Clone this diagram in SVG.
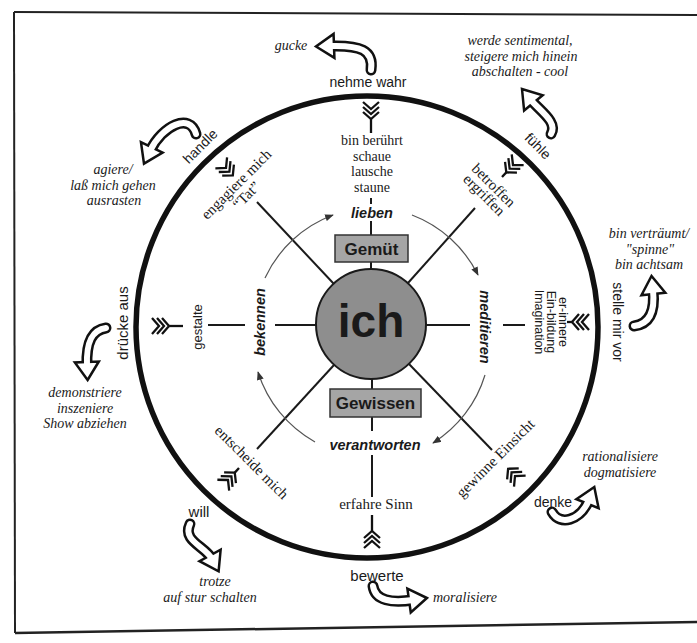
<svg xmlns="http://www.w3.org/2000/svg" width="697" height="643" viewBox="0 0 697 643">
<style>
text{text-anchor:middle;fill:#1a1a1a}
.sans{font-family:"Liberation Sans",Arial,sans-serif;font-size:14px}
.bi{font-family:"Liberation Sans",Arial,sans-serif;font-weight:bold;font-style:italic;font-size:14.5px}
.box{font-family:"Liberation Sans",Arial,sans-serif;font-weight:bold;font-size:17px}
.ser{font-family:"Liberation Serif","Times New Roman",serif;font-size:15px}
.ser14{font-family:"Liberation Serif","Times New Roman",serif;font-size:14px}
.it{font-family:"Liberation Serif","Times New Roman",serif;font-style:italic;font-size:14px}
.rad{stroke:#1a1a1a;stroke-width:2;fill:none}
.cyc{stroke:#555;stroke-width:1.2;fill:none;marker-end:url(#ah)}
.fl{stroke:#111;stroke-width:2.3;fill:none}
.hb{stroke:#111;stroke-width:11;stroke-linecap:round;fill:none}
.hw{stroke:#fff;stroke-width:6;stroke-linecap:round;fill:none}
.hd{fill:#fff;stroke:#111;stroke-width:2.5;stroke-linejoin:miter}
.gbox{fill:#a5a5a5;stroke:#333;stroke-width:1.5}
</style>
<defs>
<marker id="ah" viewBox="0 0 10 8" refX="9" refY="4" markerWidth="9" markerHeight="7" markerUnits="userSpaceOnUse" orient="auto"><path d="M0,0 L10,4 L0,8 z" fill="#333"/></marker>
<path id="fl" d="M-7,-8 L0,0 L-7,8 M-2,-8 L5,0 L-2,8 M3,-8 L10,0 L3,8"/>
<polygon id="hh" points="0,0 -18,-12 -18,12"/>
</defs>

<g id="frame" stroke="#222" fill="none">
<path d="M14,12 L697,15" stroke-width="2"/>
<path d="M14,12 L15,633" stroke-width="2"/>
<path d="M15,633 L697,622" stroke-width="2.5"/>
</g>

<g id="ring"><circle cx="367" cy="327" r="231" stroke="#111" stroke-width="5.5" fill="none"/></g>

<g id="connectors">
<path class="rad" d="M371,198 V204 M371,221 V235 M371,262 V269"/>
<path class="rad" d="M372,379 V389 M372,417 V431 M372,455 V497"/>
<path class="rad" d="M316,325 H275 M245,325 H208"/>
<path class="rad" d="M426,325 H470 M503,325 H525"/>
<path class="rad" d="M333.5,283.5 L257,202"/>
<path class="rad" d="M408,283 L475,208"/>
<path class="rad" d="M409,364 L492,450"/>
<path class="rad" d="M334,365 L257,449"/>
<path class="cyc" d="M265,278 A122,122 0 0 1 333,215"/>
<path class="cyc" d="M412,215 A122,122 0 0 1 478,275"/>
<path class="cyc" d="M485,375 A122,122 0 0 1 433,443"/>
<path class="cyc" d="M315,442 A122,122 0 0 1 258,372"/>
</g>

<g id="ich">
<circle cx="371" cy="324" r="55" fill="#8e8e8e" stroke="#1a1a1a" stroke-width="2"/>
<text x="371" y="337" font-family="Liberation Sans,Arial,sans-serif" font-weight="bold" font-size="46">ich</text>
</g>

<g id="gemuet">
<rect class="gbox" x="335" y="235" width="73" height="27"/>
<text class="box" x="371.5" y="255">Gemüt</text>
</g>

<g id="gewissen">
<rect class="gbox" x="330" y="389" width="91" height="28"/>
<text class="box" x="375.5" y="409">Gewissen</text>
</g>

<g id="lieben"><text class="bi" x="372" y="218">lieben</text></g>
<g id="verantworten"><text class="bi" x="375" y="450">verantworten</text></g>
<g id="bekennen"><text class="bi" transform="translate(260,322) rotate(-90)" y="5">bekennen</text></g>
<g id="meditieren"><text class="bi" transform="translate(485,327) rotate(90)" y="5">meditieren</text></g>

<g id="top">
<text class="sans" x="368" y="87">nehme wahr</text>
<use href="#fl" class="fl" transform="translate(371,109) rotate(90)"/>
<line class="fl" x1="371" y1="119" x2="371" y2="133"/>
<text class="ser14" x="372" y="145">bin berührt</text>
<text class="ser14" x="372" y="160.5">schaue</text>
<text class="ser14" x="372" y="176">lausche</text>
<text class="ser14" x="372" y="191.5">staune</text>
<path class="hb" d="M371,70 C374,50 360,45 330,46"/>
<use href="#hh" class="hd" transform="translate(316,46.5) rotate(178)"/>
<path class="hw" d="M371,70 C374,50 360,45 330,46"/>
<text class="it" x="291" y="50">gucke</text>
</g>

<g id="topright">
<text class="sans" transform="translate(538,146) rotate(45)" y="5">fühle</text>
<use href="#fl" class="fl" transform="translate(513,165) rotate(132)"/>
<line class="fl" x1="506.3" y1="172.4" x2="502" y2="177"/>
<text class="ser" transform="translate(493,186) rotate(45)" y="4">betroffen</text>
<text class="ser" transform="translate(483.5,195.5) rotate(45)" y="4">ergriffen</text>
<path class="hb" d="M551,134 C558,122 540,111 531,100"/>
<use href="#hh" class="hd" transform="translate(522,89) rotate(230.7)"/>
<path class="hw" d="M551,134 C558,122 540,111 531,100"/>
<text class="it" x="520" y="45">werde sentimental,</text>
<text class="it" x="521" y="60.5">steigere mich hinein</text>
<text class="it" x="520" y="76">abschalten - cool</text>
</g>

<g id="right">
<text class="sans" transform="translate(618,322) rotate(90)" y="5">stelle mir vor</text>
<use href="#fl" class="fl" transform="translate(582,322) rotate(180)"/>
<line class="fl" x1="572" y1="322" x2="567" y2="322"/>
<g transform="translate(551,322) rotate(90)">
<text class="sans" style="font-size:12.5px" y="-7.5">er-innere</text>
<text class="sans" style="font-size:12.5px" y="4.5">Ein-bildung</text>
<text class="sans" style="font-size:12.5px" y="16.5">Imagination</text>
</g>
<path class="hb" d="M634,326 C651,324 655,309 653,290"/>
<use href="#hh" class="hd" transform="translate(651.5,276) rotate(264)"/>
<path class="hw" d="M634,326 C651,324 655,309 653,290"/>
<text class="it" x="649" y="238">bin verträumt/</text>
<text class="it" x="650" y="253.5">"spinne"</text>
<text class="it" x="649" y="269">bin achtsam</text>
</g>

<g id="bottomright">
<use href="#fl" class="fl" transform="translate(515,476) rotate(226.5)"/>
<text class="ser" transform="translate(496,459) rotate(-45)" y="4">gewinne Einsicht</text>
<text class="sans" x="553" y="507">denke</text>
<path class="hb" d="M552,512 C560,526 580,521 589,500"/>
<use href="#hh" class="hd" transform="translate(594.3,487) rotate(-67.8)"/>
<path class="hw" d="M552,512 C560,526 580,521 589,500"/>
<text class="it" x="620" y="461">rationalisiere</text>
<text class="it" x="620" y="476.5">dogmatisiere</text>
</g>

<g id="bottom">
<text class="ser" x="376" y="509">erfahre Sinn</text>
<line class="fl" x1="372" y1="515" x2="372" y2="531"/>
<use href="#fl" class="fl" transform="translate(372,541) rotate(-90)"/>
<text class="sans" style="font-size:15px" x="377" y="581">bewerte</text>
<path class="hb" d="M373,586 C375,601 392,603 413,600"/>
<use href="#hh" class="hd" transform="translate(426.9,598) rotate(-8.1)"/>
<path class="hw" d="M373,586 C375,601 392,603 413,600"/>
<text class="it" x="465" y="602">moralisiere</text>
</g>

<g id="bottomleft">
<use href="#fl" class="fl" transform="translate(228,480) rotate(-47.5)"/>
<line class="fl" x1="234.8" y1="472.6" x2="239" y2="468"/>
<text class="ser" transform="translate(251,463) rotate(45)" y="4">entscheide mich</text>
<text class="sans" style="font-size:15px" x="199" y="517">will</text>
<path class="hb" d="M190,524 C182,541 205,546 212,559"/>
<use href="#hh" class="hd" transform="translate(218.6,571.3) rotate(61.7)"/>
<path class="hw" d="M190,524 C182,541 205,546 212,559"/>
<text class="it" x="215" y="586">trotze</text>
<text class="it" x="210" y="601.5">auf stur schalten</text>
</g>

<g id="left">
<text class="sans" style="font-size:15px" transform="translate(123,323) rotate(-90)" y="5">drücke aus</text>
<use href="#fl" class="fl" transform="translate(159,326)"/>
<line class="fl" x1="169" y1="326" x2="183" y2="326"/>
<text class="sans" style="font-size:13px" transform="translate(197,327) rotate(-90)" y="4.5">gestalte</text>
<path class="hb" d="M106,328 C92,330 86,342 87,366"/>
<use href="#hh" class="hd" transform="translate(87.6,380) rotate(87.6)"/>
<path class="hw" d="M106,328 C92,330 86,342 87,366"/>
<text class="it" x="85" y="397">demonstriere</text>
<text class="it" x="85" y="412.5">inszeniere</text>
<text class="it" x="85" y="428">Show abziehen</text>
</g>

<g id="topleft">
<text class="sans" transform="translate(200,146) rotate(-45)" y="5">handle</text>
<use href="#fl" class="fl" transform="translate(226,168) rotate(47)"/>
<text class="ser" transform="translate(237,185) rotate(-45)" y="4">engagiere mich</text>
<text class="ser" transform="translate(247,196) rotate(-45)" y="4">“Tat”</text>
<path class="hb" d="M196,134 C190,112 162,126 150,151"/>
<use href="#hh" class="hd" transform="translate(144,163.6) rotate(115.6)"/>
<path class="hw" d="M196,134 C190,112 162,126 150,151"/>
<text class="it" x="113" y="174">agiere/</text>
<text class="it" x="113" y="189.5">laß mich gehen</text>
<text class="it" x="114" y="205">ausrasten</text>
</g>
</svg>
